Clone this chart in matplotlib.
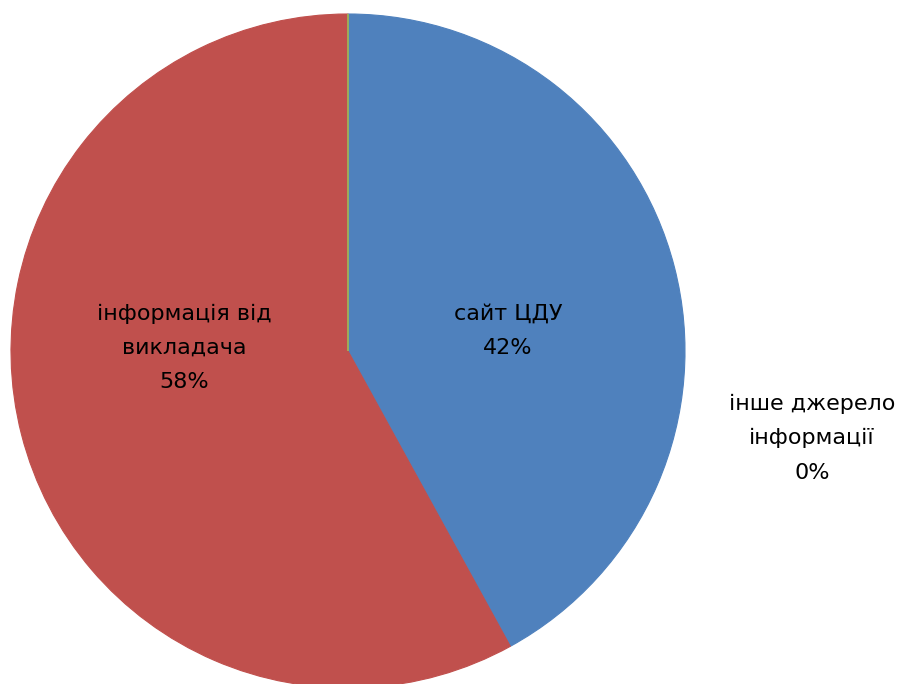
import matplotlib
matplotlib.use("Agg")
import matplotlib.pyplot as plt

plt.rcParams['font.family'] = ['DejaVu Sans']

labels = ['сайт ЦДУ', 'інформація від\nвикладача', 'інше джерело\nінформації']
values = [42, 58, 0]
colors = ['#4F81BD', '#C0504D', '#9BBB59']

fig = plt.figure(figsize=(9.01, 6.84), dpi=100)
ax = fig.add_axes([0, 0, 1, 1])

wedges, _ = ax.pie(values, colors=colors, startangle=90, counterclock=False,
                   radius=1.0)
for w, c in zip(wedges, colors):
    w.set_edgecolor(c)
    w.set_linewidth(0.8)
wedges[2].set_linewidth(1.2)
wedges[2].set_zorder(5)

total = sum(values)
pct = [f'{round(v / total * 100)}%' for v in values]

# label placement in pixels, converted to data coords (radius = 1 -> 337 px)
fs = 16
ls = 1.9
label_px = [(508, 331), (184, 348), (812, 438)]
for (px, py), lab, p in zip(label_px, labels, pct):
    ax.text((px - 348) / 337, -(py - 351) / 337, f'{lab}\n{p}', ha='center',
            va='center', fontsize=fs, linespacing=ls)

ax.set_xlim(-348 / 337, (901 - 348) / 337)
ax.set_ylim(-(684 - 351) / 337, 351 / 337)
ax.set_aspect('auto')
ax.axis('off')

fig.savefig('out.png', dpi=100)
